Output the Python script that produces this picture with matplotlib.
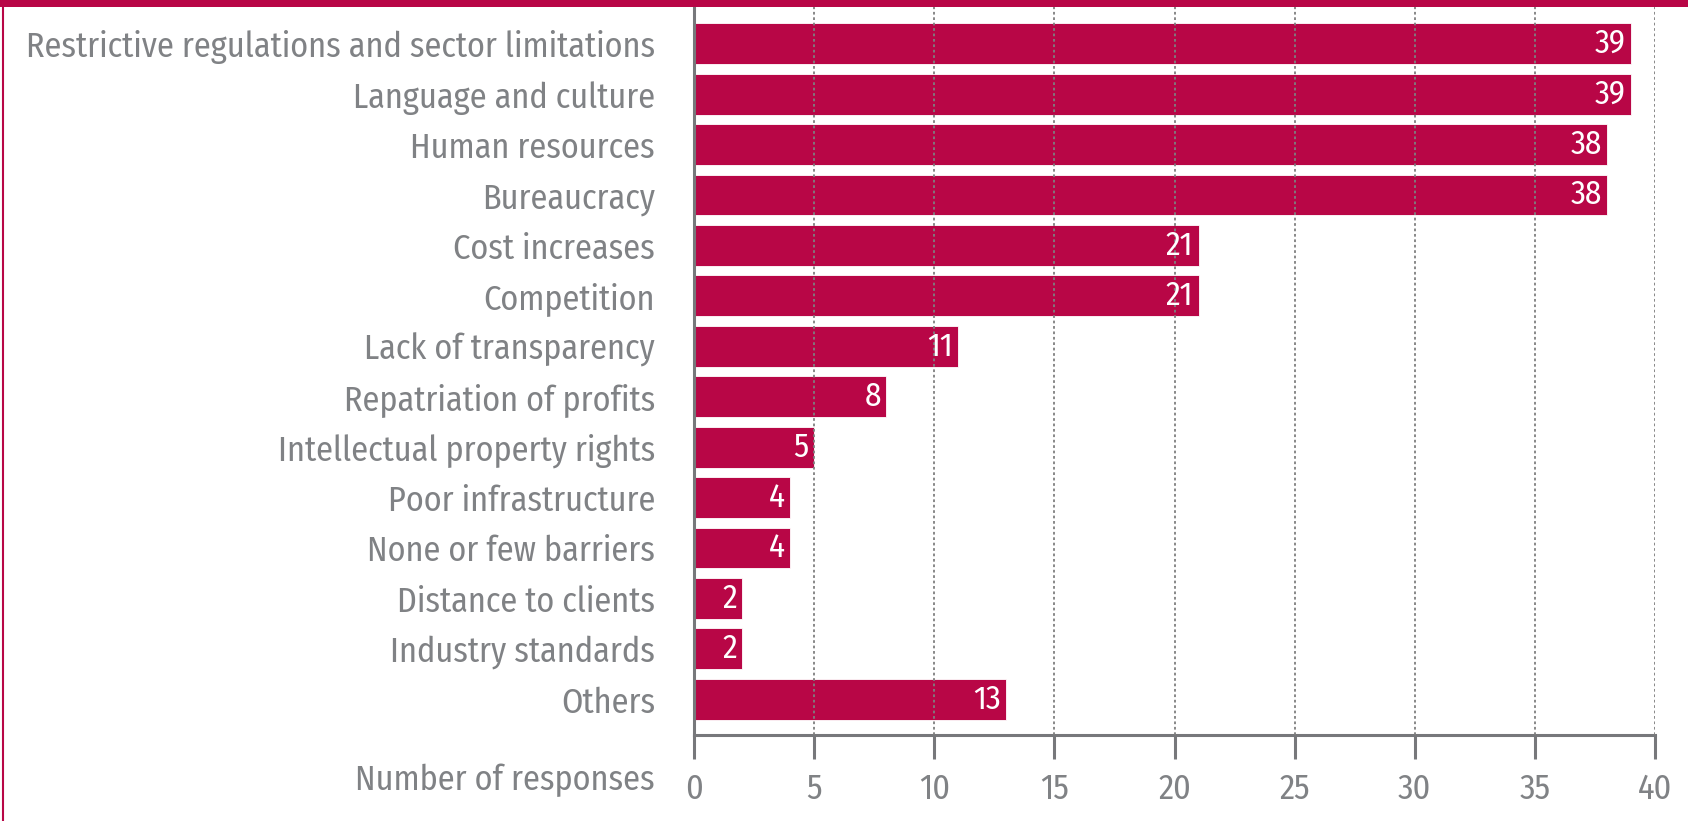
import matplotlib
matplotlib.use("Agg")
import matplotlib.pyplot as plt
from matplotlib import font_manager as fm

CRIMSON = "#b80646"
GREY = "#808285"
AXGREY = "#77787b"

categories = [
    "Restrictive regulations and sector limitations",
    "Language and culture",
    "Human resources",
    "Bureaucracy",
    "Cost increases",
    "Competition",
    "Lack of transparency",
    "Repatriation of profits",
    "Intellectual property rights",
    "Poor infrastructure",
    "None or few barriers",
    "Distance to clients",
    "Industry standards",
    "Others",
]
responses = [39, 39, 38, 38, 21, 21, 11, 8, 5, 4, 4, 2, 2, 13]
xticks = [0, 5, 10, 15, 20, 25, 30, 35, 40]

# the original uses a narrow humanist face; take the first one that is installed
names = {f.name for f in fm.fontManager.ttflist}
wanted = ["Fira Sans Condensed", "PT Sans Narrow", "Asap Condensed",
          "Archivo Narrow", "Barlow Semi Condensed"]
family = next((n for n in wanted if n in names), "DejaVu Sans")
plt.rcParams["font.family"] = [family, "DejaVu Sans"]

fig = plt.figure(figsize=(16.88, 8.21), dpi=100, facecolor="white")

# size the labels so the longest one spans about as wide as in the original
probe = fig.text(0, 0, categories[0], fontsize=20)
w = probe.get_window_extent(fig.canvas.get_renderer()).width
probe.remove()
fs = min(26, 20 * 631 / w)

ax = fig.add_axes([0.4111, 0.1047, 0.5694, 0.8868])

ypos = list(range(len(categories)))
ax.barh(ypos, responses, height=0.81, color=CRIMSON, edgecolor="white", lw=0.6, zorder=2)
for y, v in zip(ypos, responses):
    ax.text(v - 0.22, y, str(v), ha="right", va="center", color="white",
            fontsize=fs * 0.97, zorder=4)

ax.set_xlim(0, 40)
ax.set_ylim(len(categories) - 0.29, -0.73)
ax.set_yticks(ypos)
ax.set_yticklabels(categories, fontsize=fs, color=GREY)
ax.tick_params(axis="y", length=0, pad=28)
ax.set_xticks(xticks)
ax.set_xticklabels([str(t) for t in xticks], fontsize=fs, color=GREY)
ax.tick_params(axis="x", length=17, width=2.2, color=AXGREY, pad=10)

for x in xticks[1:]:
    ax.axvline(x, color="#7f7f7f", lw=1.3, ls=(0, (1.5, 1.5)), zorder=3)

for s in ("top", "right"):
    ax.spines[s].set_visible(False)
ax.spines["left"].set_color(AXGREY)
ax.spines["left"].set_linewidth(2.2)
ax.spines["bottom"].set_color(AXGREY)
ax.spines["bottom"].set_linewidth(2.2)

fig.text(655 / 1688, 1 - 780 / 821, "Number of responses", ha="right", va="center",
         fontsize=fs, color=GREY)

# crimson frame: thick band on top, thin line down the left
fig.add_artist(plt.Rectangle((0, 0.9915), 1, 0.0085, transform=fig.transFigure,
                             color=CRIMSON, lw=0))
fig.add_artist(plt.Line2D([0.0015, 0.0015], [0, 1], transform=fig.transFigure,
                          color=CRIMSON, lw=1.5))

fig.savefig("out.png", dpi=100)
